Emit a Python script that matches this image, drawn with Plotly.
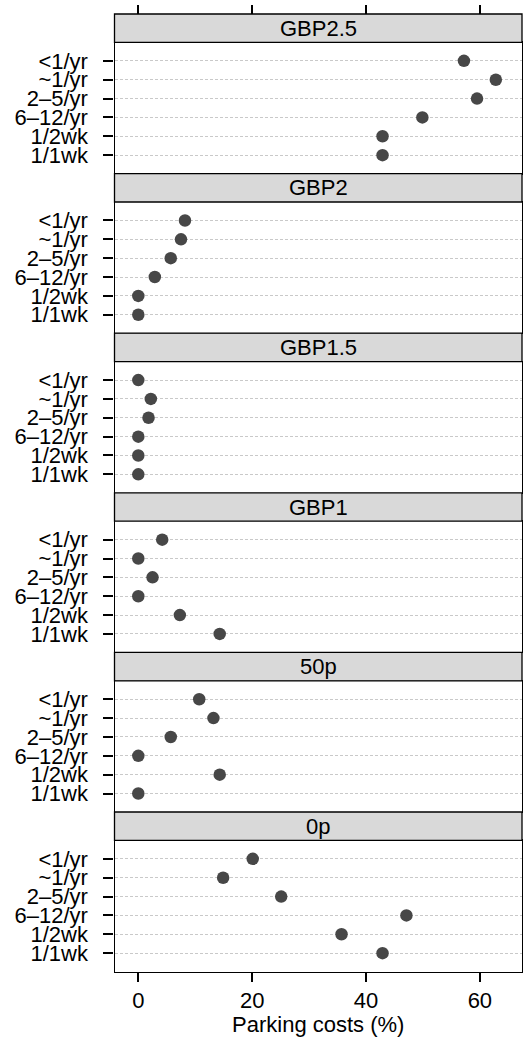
import plotly.graph_objects as go

categories = ["<1/yr", "~1/yr", "2–5/yr", "6–12/yr", "1/2wk", "1/1wk"]
panels = ["GBP2.5", "GBP2", "GBP1.5", "GBP1", "50p", "0p"]
gbp25 = [57.2, 62.8, 59.5, 49.9, 42.9, 42.9]
gbp2 = [8.2, 7.5, 5.7, 2.9, 0.0, 0.0]
gbp15 = [0.0, 2.2, 1.8, 0.0, 0.0, 0.0]
gbp1 = [4.2, 0.0, 2.5, 0.0, 7.3, 14.3]
p50 = [10.7, 13.2, 5.7, 0.0, 14.3, 0.0]
p0 = [20.1, 14.9, 25.1, 47.1, 35.7, 42.9]
series = [gbp25, gbp2, gbp15, gbp1, p50, p0]
x_ticks = [0, 20, 40, 60]
x_title = "Parking costs (%)"

W, H = 531, 1037
X_LEFT, X_RIGHT = 114.5, 522.0
TOP0, PERIOD, STRIP = 14.0, 159.6, 28.4
XR = [-4.18, 67.4]
FONT = "Liberation Sans, Arial, sans-serif"
FS = 22


def py(p):
    return 1 - p / H


fig = go.Figure()
n = len(panels)
for i, (name, vals) in enumerate(zip(panels, series)):
    k = "" if i == 0 else str(i + 1)
    fig.add_trace(go.Scatter(
        x=vals, y=categories, mode="markers",
        marker=dict(size=12.5, color="#474747"),
        xaxis="x" + k, yaxis="y" + k, showlegend=False,
    ))
    s_top = TOP0 + i * PERIOD
    s_bot = s_top + STRIP
    b_bot = s_top + PERIOD
    last = i == n - 1
    fig.layout["xaxis" + k] = dict(
        domain=[X_LEFT / W, X_RIGHT / W], anchor="y" + k, range=XR,
        tickmode="array", tickvals=x_ticks, showgrid=False, zeroline=False,
        showline=True, mirror=True, linecolor="black", linewidth=1.3,
        ticks="outside" if last else "", ticklen=9, tickwidth=1.8, tickcolor="black",
        showticklabels=last, automargin=False,
        tickfont=dict(family=FONT, size=FS, color="black"),
        title=dict(text=x_title, font=dict(family=FONT, size=FS, color="black"), standoff=0) if last else None,
    )
    fig.layout["yaxis" + k] = dict(
        domain=[py(b_bot), py(s_bot)], anchor="x" + k,
        type="category", categoryarray=categories,
        tickmode="array", tickvals=categories, ticktext=categories,
        range=[5.98, -0.98], automargin=False,
        showgrid=True, gridcolor="#c9c9c9", griddash="3px,2px", gridwidth=1,
        zeroline=False, showline=True, mirror=True, linecolor="black", linewidth=1.3,
        ticks="outside", ticklen=10, tickwidth=1.8, tickcolor="black",
        ticklabelstandoff=11,
        tickfont=dict(family=FONT, size=FS, color="black"),
    )
    fig.add_shape(type="rect", xref="paper", yref="paper",
                  x0=X_LEFT / W, x1=X_RIGHT / W, y0=py(s_bot), y1=py(s_top),
                  fillcolor="#d9d9d9", line=dict(color="black", width=1.3), layer="above")
    fig.add_annotation(xref="paper", yref="paper",
                       x=(X_LEFT + X_RIGHT) / 2 / W, y=py((s_top + s_bot) / 2),
                       text=name, showarrow=False, xanchor="center", yanchor="middle",
                       font=dict(family=FONT, size=FS, color="black"))

# top ticks above the first strip
fig.add_trace(go.Scatter(x=[None], y=[None], xaxis="x7", yaxis="y", showlegend=False))
fig.layout["xaxis7"] = dict(
    domain=[X_LEFT / W, X_RIGHT / W], anchor="free", position=py(TOP0),
    overlaying="x", side="top", range=XR, tickmode="array", tickvals=x_ticks,
    showgrid=False, zeroline=False, showline=False, automargin=False,
    ticks="outside", ticklen=9, tickwidth=1.8, tickcolor="black",
    showticklabels=False,
)

fig.update_layout(
    width=W, height=H, margin=dict(l=0, r=0, t=0, b=0, autoexpand=False),
    paper_bgcolor="white", plot_bgcolor="white",
    font=dict(family=FONT, color="black"),
)
fig.write_html("out.html", config={"displayModeBar": False},
               post_script="document.body.style.margin='0px';")
